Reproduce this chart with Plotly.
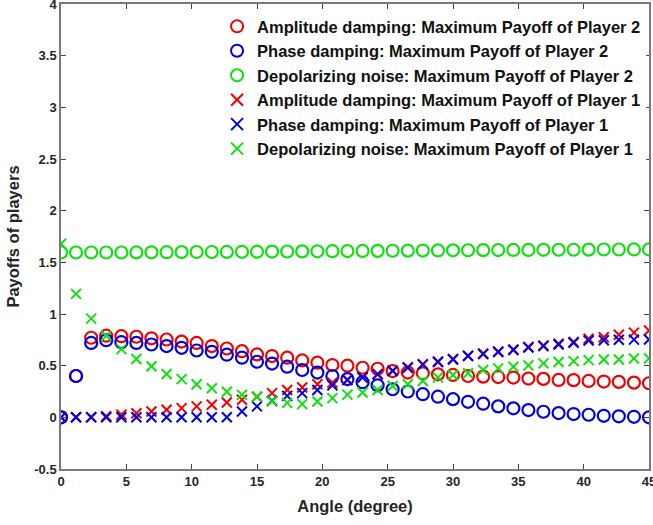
import plotly.graph_objects as go

angle = [0.00, 1.15, 2.31, 3.46, 4.62, 5.77, 6.92, 8.08, 9.23, 10.38,
         11.54, 12.69, 13.85, 15.00, 16.15, 17.31, 18.46, 19.62, 20.77, 21.92,
         23.08, 24.23, 25.38, 26.54, 27.69, 28.85, 30.00, 31.15, 32.31, 33.46,
         34.62, 35.77, 36.92, 38.08, 39.23, 40.38, 41.54, 42.69, 43.85, 45.00]

amp_p2 = [0.0, 0.40, 0.77, 0.79, 0.785, 0.78, 0.765, 0.753, 0.733, 0.72,
          0.69, 0.666, 0.64, 0.609, 0.593, 0.577, 0.551, 0.529, 0.506, 0.50,
          0.48, 0.47, 0.448, 0.433, 0.426, 0.416, 0.41, 0.40, 0.394, 0.39,
          0.385, 0.375, 0.372, 0.362, 0.36, 0.352, 0.346, 0.343, 0.336, 0.33]
phase_p2 = [0.0, 0.40, 0.72, 0.746, 0.727, 0.72, 0.705, 0.69, 0.673, 0.647,
            0.634, 0.606, 0.577, 0.538, 0.52, 0.49, 0.458, 0.433, 0.40, 0.37,
            0.34, 0.31, 0.272, 0.25, 0.224, 0.20, 0.176, 0.15, 0.132, 0.106,
            0.087, 0.07, 0.054, 0.041, 0.032, 0.025, 0.015, 0.01, 0.005, 0.0]
depol_p2 = [1.595, 1.595, 1.595, 1.595, 1.595, 1.596, 1.597, 1.598, 1.599, 1.600,
            1.600, 1.601, 1.602, 1.603, 1.604, 1.605, 1.606, 1.607, 1.608, 1.609,
            1.610, 1.611, 1.612, 1.613, 1.614, 1.615, 1.616, 1.617, 1.618, 1.619,
            1.620, 1.620, 1.621, 1.622, 1.622, 1.623, 1.624, 1.624, 1.625, 1.625]
amp_p1 = [0.0, 0.0, 0.0, 0.01, 0.025, 0.04, 0.057, 0.073, 0.089, 0.106,
          0.121, 0.144, 0.17, 0.20, 0.234, 0.265, 0.288, 0.32, 0.336, 0.365,
          0.39, 0.42, 0.452, 0.485, 0.515, 0.54, 0.565, 0.597, 0.617, 0.637,
          0.657, 0.682, 0.695, 0.712, 0.73, 0.76, 0.775, 0.80, 0.82, 0.84]
phase_p1 = [0.0, 0.0, 0.0, 0.0, 0.0, 0.0, 0.0, 0.0, 0.0, 0.0,
            0.0, 0.0, 0.057, 0.106, 0.16, 0.208, 0.234, 0.265, 0.31, 0.36,
            0.385, 0.416, 0.448, 0.48, 0.51, 0.535, 0.56, 0.593, 0.612, 0.632,
            0.652, 0.675, 0.689, 0.705, 0.721, 0.743, 0.746, 0.75, 0.752, 0.753]
depol_p1 = [1.68, 1.195, 0.955, 0.79, 0.66, 0.565, 0.495, 0.42, 0.37, 0.32,
            0.282, 0.248, 0.217, 0.20, 0.155, 0.14, 0.128, 0.154, 0.186, 0.22,
            0.24, 0.265, 0.304, 0.32, 0.352, 0.385, 0.41, 0.426, 0.458, 0.474,
            0.49, 0.503, 0.522, 0.535, 0.544, 0.554, 0.56, 0.56, 0.57, 0.57]

RED, BLUE, GREEN = "#f00000", "#0000e0", "#10e010"

series = [
    ("Amplitude damping: Maximum Payoff of Player 2", amp_p2, RED, "circle-open"),
    ("Phase damping: Maximum Payoff of Player 2", phase_p2, BLUE, "circle-open"),
    ("Depolarizing noise: Maximum Payoff of Player 2", depol_p2, GREEN, "circle-open"),
    ("Amplitude damping: Maximum Payoff of Player 1", amp_p1, RED, "x-thin-open"),
    ("Phase damping: Maximum Payoff of Player 1", phase_p1, BLUE, "x-thin-open"),
    ("Depolarizing noise: Maximum Payoff of Player 1", depol_p1, GREEN, "x-thin-open"),
]

fig = go.Figure()
for name, vals, col, sym in series:
    circ = sym.startswith("circle")
    fig.add_trace(go.Scatter(
        x=angle, y=vals, mode="markers", name=name,
        marker=dict(symbol=sym, color=col, size=12 if circ else 10,
                    line=dict(color=col, width=2.2 if circ else 2)),
    ))

FONT = "Liberation Sans, Arial"
axis_common = dict(
    showgrid=False, zeroline=False, showline=True, mirror="ticks",
    linecolor="#7a7a7a", linewidth=1.5, ticks="inside", ticklen=5,
    tickcolor="#444444", ticklabeloverflow="allow", automargin=False,
    tickfont=dict(family=FONT, size=13, color="#262626", weight="bold"),
)

fig.update_layout(
    width=653, height=525,
    margin=dict(l=61, r=4, t=4, b=56),
    paper_bgcolor="white", plot_bgcolor="white",
    xaxis=dict(range=[0, 45], tickvals=[0, 5, 10, 15, 20, 25, 30, 35, 40, 45],
               title=dict(text="Angle (degree)", standoff=12,
                          font=dict(family=FONT, size=16.5, color="#262626", weight="bold")),
               **axis_common),
    yaxis=dict(range=[-0.5, 4], tickvals=[-0.5, 0, 0.5, 1, 1.5, 2, 2.5, 3, 3.5, 4],
               ticktext=["-0.5", "0", "0.5", "1", "1.5", "2", "2.5", "3", "3.5", "4"],
               title=dict(text="Payoffs of players", standoff=10,
                          font=dict(family=FONT, size=16.5, color="#262626", weight="bold")),
               **axis_common),
    legend=dict(x=0.995, xanchor="right", y=0.989, yanchor="top",
                bgcolor="white", borderwidth=0, itemsizing="constant",
                font=dict(family=FONT, size=16.5, color="#111111", weight="bold"),
                itemwidth=30),
    showlegend=True,
)

fig.write_html("out.html")
